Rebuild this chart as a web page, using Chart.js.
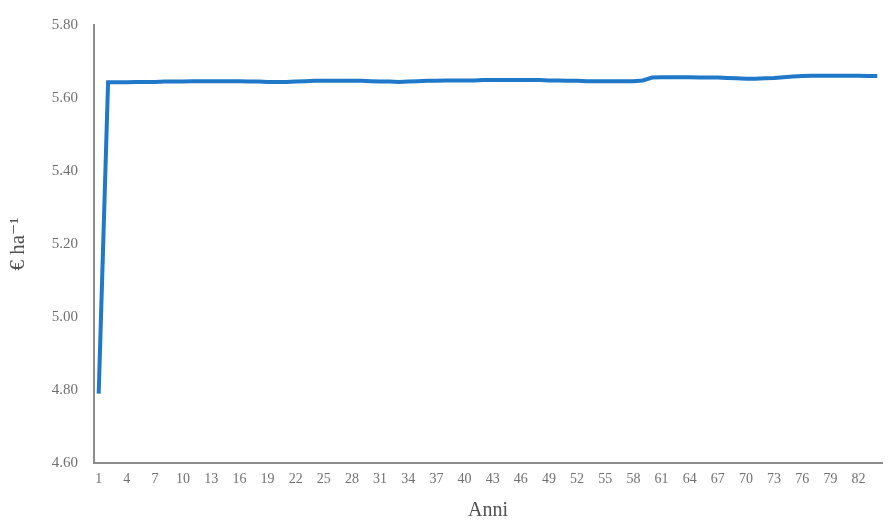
<!DOCTYPE html>
<html>
<head>
<meta charset="utf-8">
<script src="https://cdn.jsdelivr.net/npm/chart.js@4.4.0/dist/chart.umd.min.js"></script>
<style>
html,body{margin:0;padding:0;background:#fff;}
#wrap{width:892px;height:521px;position:relative;}
</style>
</head>
<body>
<div id="wrap"><canvas id="c" width="892" height="521"></canvas></div>
<script>
const years = [1,2,3,4,5,6,7,8,9,10,11,12,13,14,15,16,17,18,19,20,21,22,23,24,25,26,27,28,29,30,31,32,33,34,35,36,37,38,39,40,41,42,43,44,45,46,47,48,49,50,51,52,53,54,55,56,57,58,59,60,61,62,63,64,65,66,67,68,69,70,71,72,73,74,75,76,77,78,79,80,81,82,83,84];
const values = [4.79,5.643,5.643,5.643,5.644,5.644,5.644,5.645,5.645,5.645,
  5.646,5.646,5.646,5.646,5.646,5.646,5.645,5.645,5.644,5.644,
  5.644,5.645,5.646,5.647,5.647,5.647,5.647,5.647,5.647,5.646,
  5.645,5.645,5.644,5.645,5.646,5.647,5.647,5.648,5.648,5.648,
  5.648,5.649,5.649,5.649,5.649,5.649,5.649,5.649,5.648,5.648,
  5.647,5.647,5.646,5.646,5.646,5.646,5.646,5.646,5.648,5.656,
  5.657,5.657,5.657,5.657,5.656,5.656,5.656,5.655,5.654,5.653,
  5.653,5.654,5.655,5.657,5.659,5.660,5.661,5.661,5.661,5.661,
  5.661,5.661,5.660,5.660];
const yTicks = [4.6,4.8,5.0,5.2,5.4,5.6,5.8];
const yTitle = '€ ha⁻¹';
const xTitle = 'Anni';

const serif = '"Liberation Serif", "DejaVu Serif", serif';
new Chart(document.getElementById('c'), {
  type: 'line',
  data: {
    labels: years,
    datasets: [{
      data: values,
      borderColor: '#1f78c8',
      borderWidth: 4,
      pointRadius: 0,
      tension: 0,
      fill: false
    }]
  },
  options: {
    responsive: false,
    animation: false,
    layout: {padding: {left: 0, right: 10, top: 23, bottom: 0}},
    plugins: {legend: {display: false}, tooltip: {enabled: false}},
    scales: {
      x: {
        type: 'category',
        offset: true,
        grid: {display: false, drawTicks: false},
        border: {display: true, color: '#8c8c8c', width: 2},
        ticks: {
          autoSkip: false,
          maxRotation: 0,
          minRotation: 0,
          padding: 8,
          color: '#707070',
          font: {family: serif, size: 14},
          callback: function(v, i) { return (i % 3 === 0) ? years[i] : ''; }
        },
        title: {display: true, text: xTitle, color: '#505050', font: {family: serif, size: 20, lineHeight: 1}, padding: {top: 0, bottom: 0}},
        afterFit: function(s) { s.height = 58; }
      },
      y: {
        min: 4.6,
        max: 5.8,
        afterBuildTicks: function(s) { s.ticks = yTicks.map(v => ({value: v})); },
        grid: {display: false, drawTicks: false},
        border: {display: true, color: '#8c8c8c', width: 2},
        ticks: {
          padding: 16,
          color: '#707070',
          font: {family: serif, size: 15},
          callback: function(v) { return Number(v).toFixed(2); }
        },
        title: {display: true, text: yTitle, color: '#505050', font: {family: serif, size: 21, lineHeight: 1}, padding: {top: 8, bottom: 0}},
        afterFit: function(s) { s.width = 94; }
      }
    }
  }
});
</script>
</body>
</html>
